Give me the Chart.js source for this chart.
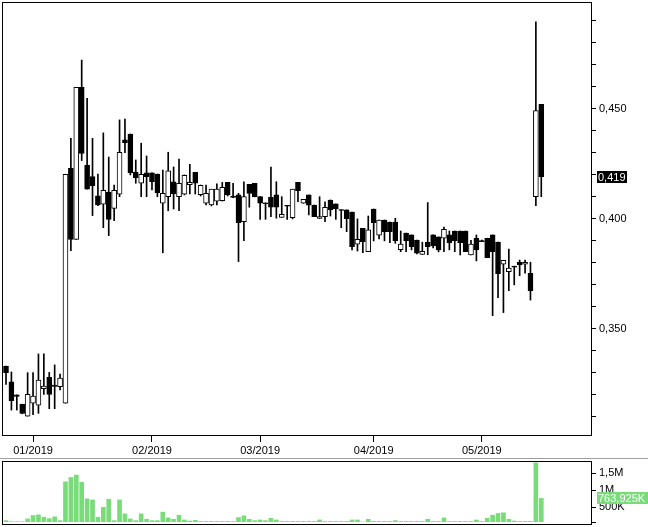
<!DOCTYPE html>
<html lang="en">
<head>
<meta charset="UTF-8">
<title>Candles</title>
<script src="https://cdn.jsdelivr.net/npm/chart.js"></script>
<style>
  body { margin: 0; background: #fff; }
  #wrap { position: relative; width: 648px; height: 527px; overflow: hidden; }
  #priceChart { position: absolute; left: 0; top: 0; }
  #volChart { position: absolute; left: 0; top: 458px; }
  #sep { position: absolute; left: 0; top: 458px; width: 648px; height: 1px; background: #a0a0a0; }
</style>
</head>
<body>
<div id="wrap">
  <canvas id="priceChart" width="648" height="458"></canvas>
  <canvas id="volChart" width="648" height="69"></canvas>
  <div id="sep"></div>
</div>
<script>
// trading days, index 0 = mid Dec 2018
const monthLabels = ['01/2019', '02/2019', '03/2019', '04/2019', '05/2019'];
const monthStart = [5, 27, 47, 68, 88];

const opens = [
  .3330, .3258, .3199, .3156, .3102, .3161, .3152, .3227, .3279, .3244,
  .3236, .3161, .4229, .3906, .4597, .4244, .4191, .4104, .4066, .4121,
  .4047, .4111, .4358, .4385, .4212, .4161, .4208, .4208, .4203, .4070,
  .4100, .4167, .4100, .4111, .4154, .4211, .4109, .4070, .4062, .4080,
  .4082, .4165, .4103, .4108, .3986, .4156, .4161, .4100, .4072, .4097,
  .4108, .4006, .4061, .4004, .4165, .4070, .4108, .4062, .4001, .4009,
  .4085, .4067, .4041, .4040, .4030, .3884, .3956, .3850, .4044, .3925,
  .3994, .3985, .3985, .3859, .3934, .3926, .3903, .3838, .3893, .3926,
  .3917, .3911, .3926, .3944, .3944, .3944, .3835, .3911, .3900, .3911,
  .3926, .3894, .3793, .3759, .3784, .3802, .3793, .3752, .4100, .4520
];
const highs = [
  .3330, .3303, .3199, .3157, .3300, .3300, .3385, .3385, .3301, .3335,
  .3294, .4202, .4365, .4597, .4721, .4547, .4365, .4203, .4390, .4280,
  .4153, .4449, .4453, .4385, .4267, .4343, .4285, .4208, .4203, .4221,
  .4302, .4235, .4271, .4199, .4247, .4211, .4153, .4153, .4134, .4158,
  .4165, .4165, .4161, .4115, .4168, .4156, .4161, .4100, .4072, .4234,
  .4168, .4100, .4061, .4134, .4165, .4088, .4108, .4062, .4100, .4077,
  .4085, .4067, .4041, .4040, .4030, .3999, .3956, .4012, .4044, .3994,
  .3994, .3985, .4002, .3944, .3934, .3926, .3903, .3893, .4073, .3926,
  .3917, .3962, .3944, .3944, .3944, .3944, .3902, .3926, .3903, .3911,
  .3926, .3894, .3811, .3862, .3784, .3812, .3812, .3802, .4895, .4520
];
const lows = [
  .3247, .3130, .3130, .3113, .3102, .3109, .3115, .3201, .3136, .3136,
  .3221, .3161, .3855, .3906, .4264, .4134, .4014, .4059, .3959, .3923,
  .3991, .4100, .4300, .4199, .4161, .4100, .4100, .4131, .4100, .3845,
  .4036, .4044, .4036, .4108, .4112, .4112, .4103, .4062, .4058, .4062,
  .4080, .4103, .4096, .3805, .3900, .4052, .4099, .3997, .3997, .4009,
  .4002, .4006, .3997, .3999, .4077, .4070, .4017, .4009, .4001, .3986,
  .4012, .3997, .3959, .3941, .3858, .3853, .3845, .3850, .3899, .3908,
  .3899, .3891, .3888, .3850, .3850, .3858, .3840, .3838, .3836, .3867,
  .3849, .3850, .3858, .3850, .3835, .3850, .3835, .3808, .3896, .3823,
  .3559, .3641, .3573, .3673, .3699, .3741, .3752, .3630, .4059, .4100
];
const closes = [
  .3300, .3173, .3192, .3115, .3202, .3194, .3266, .3239, .3201, .3237,
  .3275, .4202, .3906, .4597, .4297, .4134, .4150, .4063, .4129, .3997,
  .4129, .4302, .4345, .4209, .4186, .4202, .4191, .4168, .4118, .4115,
  .4217, .4112, .4161, .4197, .4165, .4161, .4152, .4115, .4134, .4134,
  .4143, .4108, .4097, .3982, .4100, .4115, .4100, .4070, .4068, .4052,
  .4052, .4020, .4057, .4134, .4127, .4088, .4061, .4009, .4010, .4052,
  .4040, .4044, .4038, .4000, .3873, .3906, .3896, .3949, .3982, .3994,
  .3941, .3941, .3900, .3884, .3900, .3873, .3843, .3852, .3873, .3876,
  .3858, .3952, .3891, .3900, .3891, .3850, .3884, .3858, .3896, .3823,
  .3850, .3750, .3811, .3775, .3780, .3790, .3802, .3671, .4491, .4191
];
const volumes = [
  110000, 80000, 80000, 80000, 160000, 260000, 280000, 210000, 170000, 220000,
  110000, 1250000, 1380000, 1450000, 1240000, 750000, 720000, 210000, 500000, 740000,
  110000, 720000, 310000, 160000, 110000, 310000, 150000, 110000, 110000, 360000,
  190000, 150000, 270000, 130000, 100000, 120000, 85000, 85000, 85000, 85000,
  85000, 85000, 85000, 200000, 250000, 150000, 110000, 130000, 110000, 180000,
  130000, 85000, 85000, 85000, 85000, 85000, 85000, 85000, 130000, 85000,
  85000, 85000, 85000, 85000, 130000, 130000, 72000, 150000, 85000, 85000,
  85000, 85000, 110000, 85000, 85000, 85000, 85000, 85000, 150000, 85000,
  85000, 190000, 85000, 85000, 85000, 85000, 85000, 130000, 85000, 180000,
  270000, 320000, 340000, 150000, 100000, 85000, 85000, 85000, 1810000, 763925
];
const volTicks = [70000, 500000, 1000000, 1500000];

const FONT = { family: '"Liberation Sans", Arial, sans-serif', size: 11 };
const X_MIN = -0.74, X_MAX = 108.38;

const comma = (v, d) => v.toFixed(d).replace('.', ',');

// keep the plot area where we put it, no room for half labels
const noPad = s => { s.paddingTop = 0; s.paddingBottom = 0; s.paddingLeft = 0; s.paddingRight = 0; };

// black frame round the plot area (extra pixels under it for the volume pane)
function framePlugin(extraBottom) {
  return {
    id: 'frame',
    afterDraw(chart) {
      const { ctx, chartArea: a } = chart;
      ctx.save();
      ctx.strokeStyle = '#000';
      ctx.lineWidth = 1;
      ctx.strokeRect(a.left + 0.5, a.top + 0.5, a.right - a.left - 1, a.bottom - a.top - 1 + extraBottom);
      ctx.restore();
    }
  };
}

// boxed label of the last value on the right axis
function lastValuePlugin(getText, getY, bg, fg, w) {
  return {
    id: 'lastValue',
    afterDraw(chart) {
      const { ctx } = chart;
      const y = Math.round(getY(chart));
      ctx.save();
      ctx.fillStyle = bg;
      ctx.fillRect(597, y - 6, w, 12);
      ctx.fillStyle = fg;
      ctx.font = '11px "Liberation Sans", Arial, sans-serif';
      ctx.textBaseline = 'middle';
      ctx.fillText(getText(), 598, y + 0.5);
      ctx.restore();
    }
  };
}

const idx = opens.map((_, i) => i);

new Chart(document.getElementById('priceChart'), {
  type: 'bar',
  data: {
    datasets: [
      {
        label: 'body',
        order: 0,
        data: idx.map(i => ({ x: i, y: [opens[i], closes[i]] })),
        backgroundColor: idx.map(i => closes[i] >= opens[i] ? '#fff' : '#000'),
        borderColor: '#000',
        borderWidth: 1,
        borderSkipped: false,
        barThickness: 5,
        grouped: false
      },
      {
        label: 'wick',
        order: 1,
        data: idx.map(i => ({ x: i, y: [lows[i], highs[i]] })),
        backgroundColor: '#000',
        borderWidth: 0,
        barThickness: 1,
        grouped: false
      }
    ]
  },
  options: {
    responsive: false,
    animation: false,
    layout: { padding: { left: 2, top: 2, right: 0, bottom: 0 } },
    plugins: { legend: { display: false }, tooltip: { enabled: false } },
    scales: {
      x: {
        type: 'linear',
        offset: false,
        min: X_MIN,
        max: X_MAX,
        afterBuildTicks: s => { s.ticks = monthStart.map(v => ({ value: v })); },
        afterFit: s => { s.height = 22; noPad(s); },
        ticks: {
          autoSkip: false, maxRotation: 0, padding: 2, color: '#000', font: FONT,
          callback: v => monthLabels[monthStart.indexOf(v)]
        },
        grid: { offset: false, drawOnChartArea: false, drawTicks: true, tickLength: 6, color: '#000' },
        border: { display: false }
      },
      y: {
        position: 'right',
        min: 0.3012,
        max: 0.4985,
        afterFit: s => { s.width = 56; noPad(s); },
        ticks: {
          stepSize: 0.01, includeBounds: false, padding: 3, color: '#000', font: FONT,
          callback: v => Math.round(v * 1000) % 50 === 0 ? comma(v, 3) : ''
        },
        grid: { drawOnChartArea: false, drawTicks: true, tickLength: 4, color: '#000' },
        border: { display: false }
      }
    }
  },
  plugins: [framePlugin(0), lastValuePlugin(
    () => comma(closes[closes.length - 1], 3),
    c => c.scales.y.getPixelForValue(closes[closes.length - 1]),
    '#000', '#fff', 30)]
});

new Chart(document.getElementById('volChart'), {
  type: 'bar',
  data: {
    datasets: [{
      label: 'volume',
      data: idx.map(i => ({ x: i, y: volumes[i] })),
      backgroundColor: '#78dc78',
      borderWidth: 0,
      barThickness: 4
    }]
  },
  options: {
    responsive: false,
    animation: false,
    layout: { padding: { left: 2, top: 3, right: 0, bottom: 5 } },
    plugins: { legend: { display: false }, tooltip: { enabled: false } },
    scales: {
      x: { type: 'linear', offset: false, min: X_MIN, max: X_MAX, display: false, grid: { offset: false } },
      y: {
        position: 'right',
        min: volTicks[0],
        max: 1864000,
        afterBuildTicks: s => { s.ticks = volTicks.map(v => ({ value: v })); },
        afterFit: s => { s.width = 56; noPad(s); },
        ticks: {
          padding: 3, color: '#000', font: FONT,
          callback: v => v === volTicks[0] ? '' : (v >= 1e6 ? comma(v / 1e6, v % 1e6 ? 1 : 0) + 'M' : (v / 1000) + 'K')
        },
        grid: { drawOnChartArea: false, drawTicks: true, tickLength: 4, color: '#000' },
        border: { display: false }
      }
    }
  },
  plugins: [framePlugin(3), lastValuePlugin(
    () => comma(volumes[volumes.length - 1] / 1000, 3) + 'K',
    c => c.scales.y.getPixelForValue(volumes[volumes.length - 1]),
    '#78dc78', '#fff', 51)]
});
</script>
</body>
</html>
